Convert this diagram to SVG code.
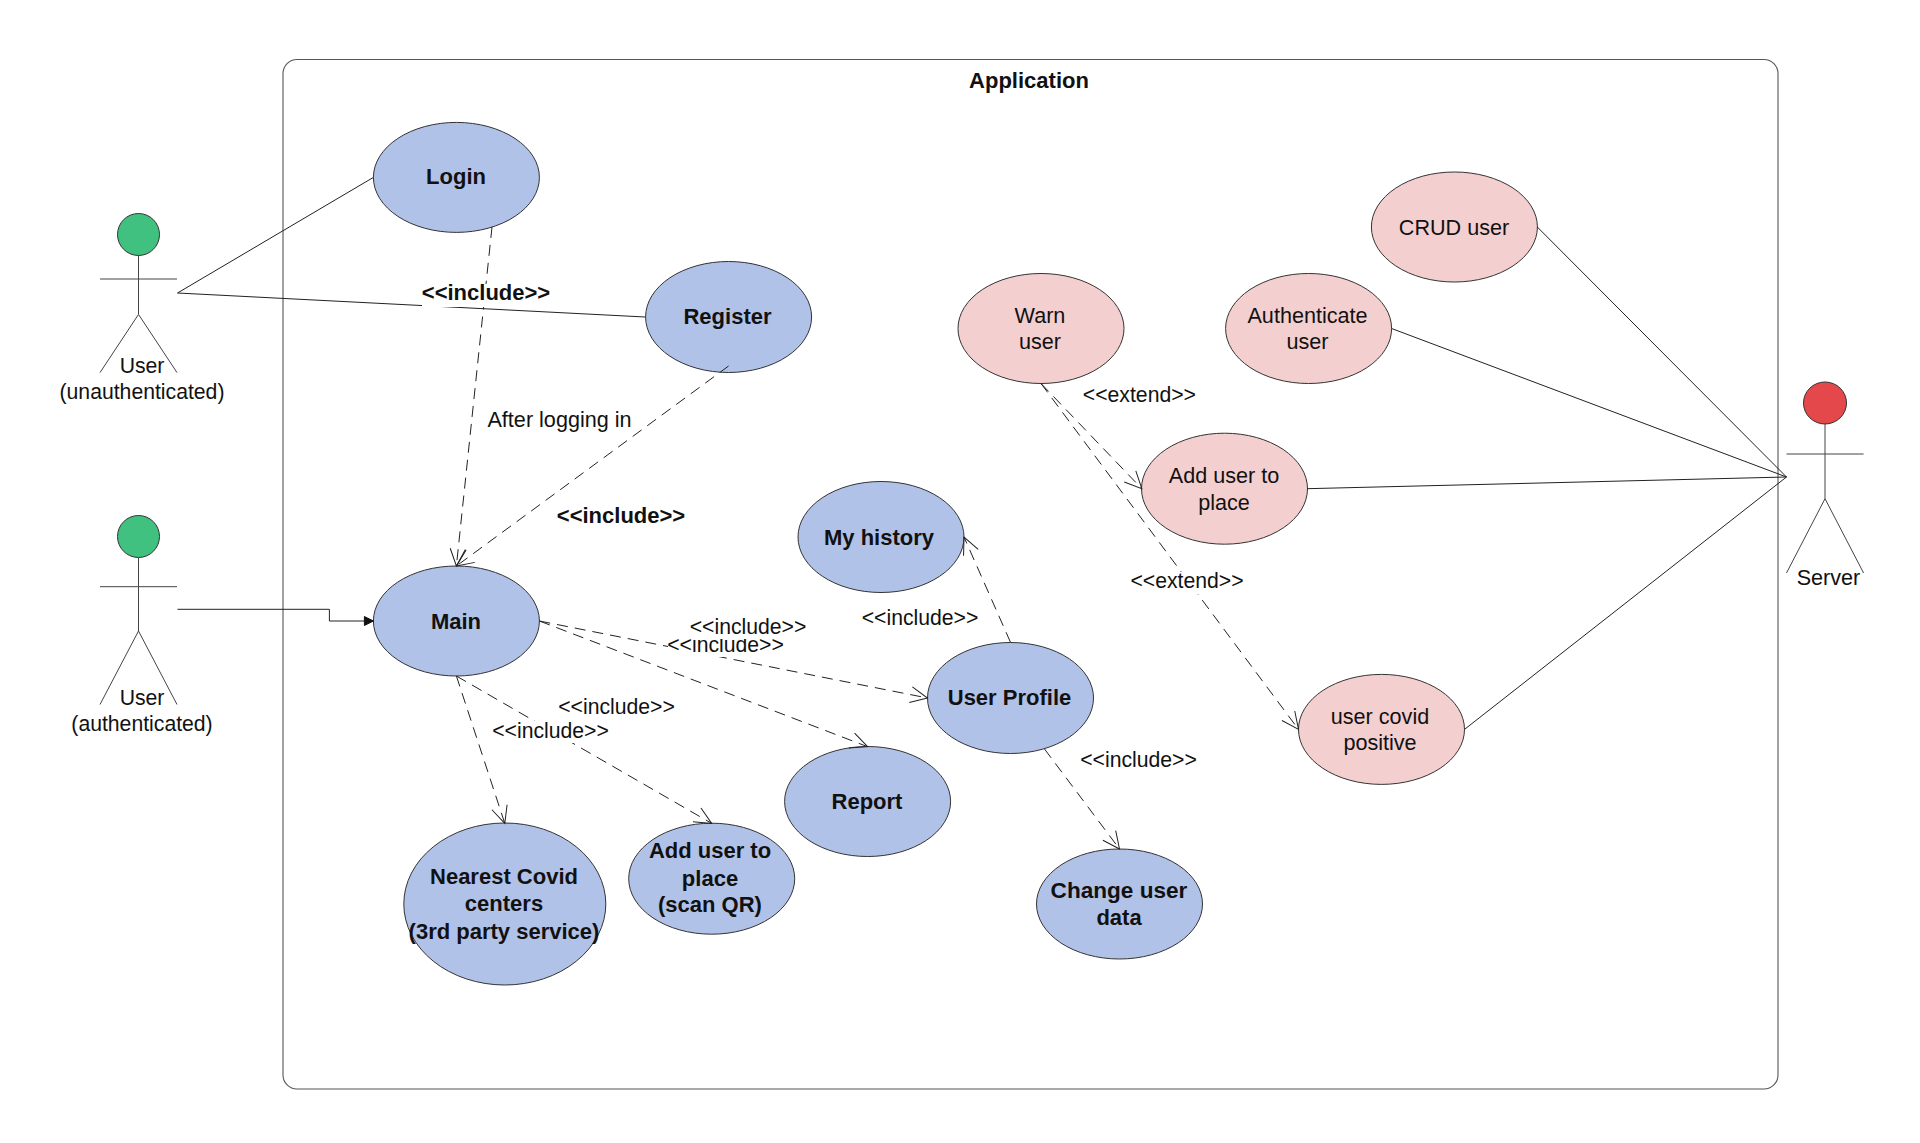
<svg xmlns="http://www.w3.org/2000/svg" width="1920" height="1143" viewBox="0 0 1920 1143">
<style>
text{font-family:"Liberation Sans",Arial,sans-serif;font-size:21.6px;fill:#111;text-anchor:middle}
.b{font-weight:bold;font-size:22px}
.e{font-size:21.2px}
.blue{fill:#b1c2e8;stroke:#333;stroke-width:1}
.pink{fill:#f4cfd0;stroke:#333;stroke-width:1}
.green{fill:#41c180;stroke:#333;stroke-width:1}
.red{fill:#e5484b;stroke:#333;stroke-width:1}
.st{fill:none;stroke:#444;stroke-width:1}
.solid{fill:none;stroke:#222;stroke-width:1}
.dash{fill:none;stroke:#222;stroke-width:1;stroke-dasharray:11 7;marker-end:url(#open)}
.bg{fill:#fff}
</style>
<defs>
<marker id="open" markerUnits="userSpaceOnUse" markerWidth="24" markerHeight="24" refX="20" refY="12" orient="auto" overflow="visible">
<path d="M3,4 L20,12 L3,20" fill="none" stroke="#222" stroke-width="1"/>
</marker>
<marker id="block" markerUnits="userSpaceOnUse" markerWidth="14" markerHeight="14" refX="11" refY="7" orient="auto">
<path d="M2,2.5 L11,7 L2,11.5 Z" fill="#111" stroke="#111"/>
</marker>
</defs>
<rect width="1920" height="1143" fill="#fff"/>
<g id="application">
<rect x="283" y="59.5" width="1495" height="1029.5" rx="14" ry="14" fill="#fff" stroke="#555" stroke-width="1.1"/>
<text class="b" x="1029" y="88">Application</text>
</g>
<g id="actor-unauthenticated">
<ellipse class="green" cx="138.5" cy="234.5" rx="21" ry="21"/>
<path class="st" d="M138.5,255.5 V314.4 M100,279 H177 M100,372.6 L138.5,314.4 L177,372.6"/>
<text class="e" x="142" y="373">User</text><text class="e" x="142" y="399">(unauthenticated)</text>
</g>
<g id="actor-authenticated">
<ellipse class="green" cx="138.5" cy="536.5" rx="21" ry="21"/>
<path class="st" d="M138.5,557.6 V631 M100,586.7 H177 M100,704.5 L138.5,631 L177,704.5"/>
<text class="e" x="142" y="704.5">User</text><text class="e" x="142" y="730.7">(authenticated)</text>
</g>
<g id="actor-server">
<ellipse class="red" cx="1825" cy="403" rx="21.5" ry="21"/>
<path class="st" d="M1825,424 V498.7 M1786.5,454 H1863.6 M1786.5,573 L1825,498.7 L1863.6,573"/>
<text x="1828.5" y="584.5">Server</text>
</g>
<g id="login"><ellipse class="blue" cx="456.4" cy="177.4" rx="83" ry="55"/><text class="b" x="456" y="184">Login</text></g>
<g id="register"><ellipse class="blue" cx="728.6" cy="317" rx="83" ry="55.5"/><text class="b" x="727.5" y="324">Register</text></g>
<g id="my-history"><ellipse class="blue" cx="881" cy="537" rx="83" ry="55.5"/><text class="b" x="879" y="544.5">My history</text></g>
<g id="main"><ellipse class="blue" cx="456.4" cy="621" rx="83" ry="55"/><text class="b" x="456" y="629">Main</text></g>
<g id="user-profile"><ellipse class="blue" cx="1010.5" cy="698" rx="83" ry="55.5"/><text class="b" x="1009.5" y="705">User Profile</text></g>
<g id="report"><ellipse class="blue" cx="867.6" cy="801.5" rx="83" ry="55"/><text class="b" x="867" y="809">Report</text></g>
<g id="add-user-qr"><ellipse class="blue" cx="711.7" cy="878.7" rx="83" ry="55.5"/><text class="b" x="710"><tspan x="710" y="858">Add user to</tspan><tspan x="710" y="885.5">place</tspan><tspan x="710" y="912.4">(scan QR)</tspan></text></g>
<g id="nearest-covid"><ellipse class="blue" cx="504.8" cy="904" rx="101" ry="81"/><text class="b" x="504"><tspan x="504" y="883.7">Nearest Covid</tspan><tspan x="504" y="910.6">centers</tspan><tspan x="504" y="938.6">(3rd party service)</tspan></text></g>
<g id="change-user-data"><ellipse class="blue" cx="1119.5" cy="904" rx="83" ry="55"/><text class="b" x="1119"><tspan x="1119" y="898" style="font-size:22.6px">Change user</tspan><tspan x="1119" y="925">data</tspan></text></g>
<g id="crud-user"><ellipse class="pink" cx="1454.4" cy="227" rx="83" ry="55"/><text x="1454" y="234.5">CRUD user</text></g>
<g id="authenticate-user"><ellipse class="pink" cx="1308.6" cy="328.5" rx="83" ry="55"/><text x="1307.5"><tspan x="1307.5" y="322.8">Authenticate</tspan><tspan x="1307.5" y="348.6">user</tspan></text></g>
<g id="warn-user"><ellipse class="pink" cx="1041" cy="328.5" rx="83" ry="55"/><text x="1040"><tspan x="1040" y="322.8">Warn</tspan><tspan x="1040" y="348.6">user</tspan></text></g>
<g id="add-user-place"><ellipse class="pink" cx="1224.5" cy="488.7" rx="83" ry="55.5"/><text x="1224"><tspan x="1224" y="482.7">Add user to</tspan><tspan x="1224" y="509.6">place</tspan></text></g>
<g id="user-covid-positive"><ellipse class="pink" cx="1381.5" cy="729.4" rx="83" ry="55"/><text x="1380"><tspan x="1380" y="724.4">user covid</tspan><tspan x="1380" y="750">positive</tspan></text></g>
<g id="connectors">
<path class="solid" d="M177.5,293 L373.4,177.4"/>
<path class="solid" d="M177.5,293 L645,317"/>
<path class="solid" d="M177.5,609.3 H329.4 V621 H373.4" marker-end="url(#block)"/>
<path class="solid" d="M1786.5,477 L1537.3,227"/>
<path class="solid" d="M1786.5,477 L1391.6,328.5"/>
<path class="solid" d="M1786.5,477 L1307,488.7"/>
<path class="solid" d="M1786.5,477 L1464.5,729.4"/>
<path class="dash" d="M492,227 L456.4,566"/>
<path class="dash" d="M728.6,366 L456.4,566"/>
<path class="dash" d="M539.4,621 L927.5,698"/>
<path class="dash" d="M539.4,621 L867.6,746.7"/>
<path class="dash" d="M456.4,676 L504.8,823.4"/>
<path class="dash" d="M456.4,676 L711.7,823.4"/>
<path class="dash" d="M1010.5,642.3 L964,537"/>
<path class="dash" d="M1044.5,749 L1119.5,849"/>
<path class="dash" d="M1041,383.5 L1141.8,488.7"/>
<path class="dash" d="M1041,383.5 L1298.5,729.4"/>
<g id="edge-labels">
<rect class="bg" x="422" y="284" width="128" height="23"/><text class="b" x="486" y="300">&lt;&lt;include&gt;&gt;</text>
<text x="559.5" y="426.7">After logging in</text>
<text class="b" x="621" y="523">&lt;&lt;include&gt;&gt;</text>
<rect class="bg" x="668" y="635" width="115" height="22"/><text class="e" x="725.5" y="651.7">&lt;&lt;include&gt;&gt;</text>
<rect class="bg" x="690" y="616" width="116" height="23"/><text class="e" x="748" y="633.5">&lt;&lt;include&gt;&gt;</text>
<rect class="bg" x="558" y="697" width="116" height="22"/><text class="e" x="616.5" y="713.5">&lt;&lt;include&gt;&gt;</text>
<rect class="bg" x="492" y="721" width="116" height="22"/><text class="e" x="550.5" y="737.5">&lt;&lt;include&gt;&gt;</text>
<rect class="bg" x="862" y="609" width="116" height="22"/><text class="e" x="920" y="625">&lt;&lt;include&gt;&gt;</text>
<rect class="bg" x="1079" y="750" width="117" height="22"/><text class="e" x="1138.5" y="766.6">&lt;&lt;include&gt;&gt;</text>
<rect class="bg" x="1083" y="386" width="113" height="22"/><text class="e" x="1139.4" y="402.3">&lt;&lt;extend&gt;&gt;</text>
<rect class="bg" x="1130" y="572" width="113" height="22"/><text class="e" x="1187" y="588">&lt;&lt;extend&gt;&gt;</text>
</g>
</g>
</svg>
